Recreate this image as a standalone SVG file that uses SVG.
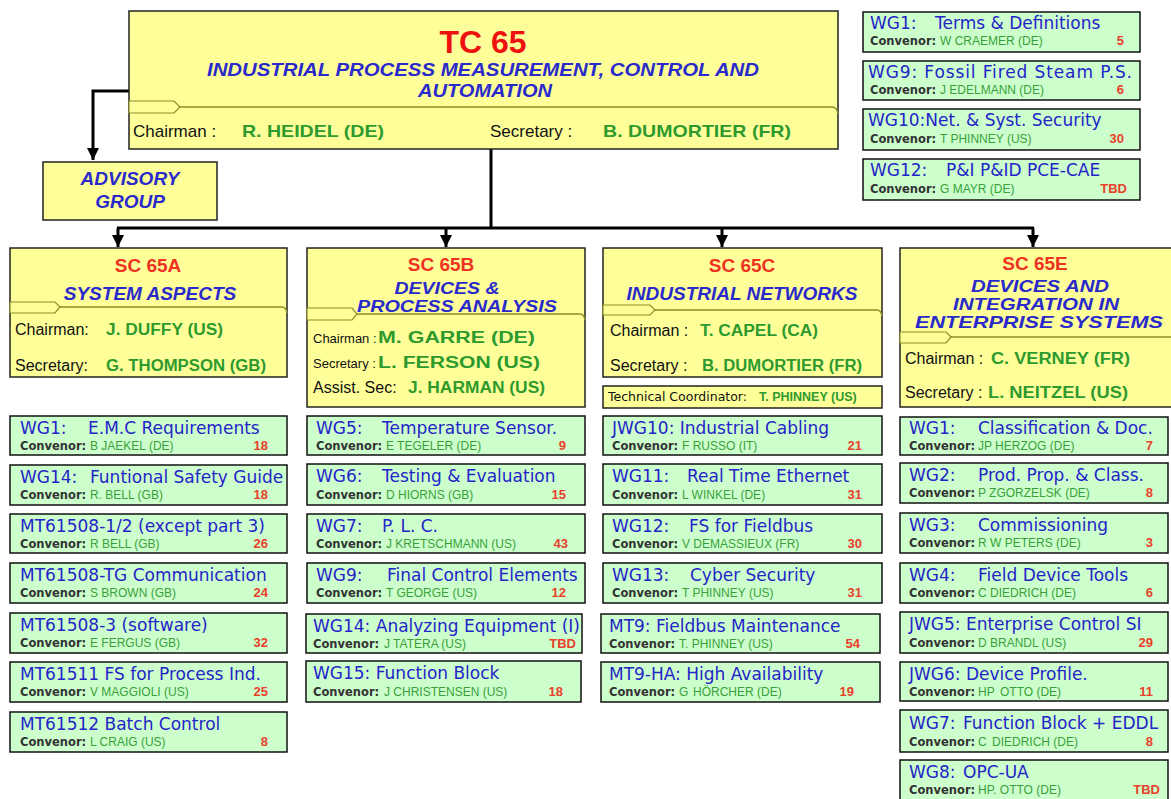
<svg xmlns="http://www.w3.org/2000/svg" width="1171" height="799" viewBox="0 0 1171 799">
<defs>
<style>
.yb{fill:#ffff99;stroke:#222;stroke-width:1.5}
.gb{fill:#ccffcc;stroke:#111;stroke-width:1.5}
.tab{fill:#ffff99;stroke:#8c8c2a;stroke-width:1.2}
.sep{fill:none;stroke:#8c8c2a;stroke-width:1.5}
.conn{fill:none;stroke:#000;stroke-width:3}
.wt{font-family:"DejaVu Sans",sans-serif;font-size:17px;fill:#2424c8}
.cv{font-family:"DejaVu Sans",sans-serif;font-size:11.5px;font-weight:bold;fill:#333}
.nm{font-family:"Liberation Sans",Arial,sans-serif;font-size:12px;fill:#3a9f3a}
.no{font-family:"Liberation Sans",Arial,sans-serif;font-size:13px;font-weight:bold;fill:#e8402a;text-anchor:end}
.sct{font-family:"Liberation Sans",Arial,sans-serif;font-weight:bold;font-size:19px;fill:#ee3322;text-anchor:middle}
.scs{font-family:"Liberation Sans",Arial,sans-serif;font-weight:bold;font-style:italic;font-size:19px;fill:#2a2acc;text-anchor:middle}
.lb{font-family:"Liberation Sans",Arial,sans-serif;font-size:16px;fill:#111}
.pn{font-family:"Liberation Sans",Arial,sans-serif;font-weight:bold;font-size:16px;fill:#2e9a2e}
.tc{font-family:"DejaVu Sans",sans-serif;font-size:12.5px;fill:#111}
</style>
<marker id="ah" markerUnits="userSpaceOnUse" markerWidth="12" markerHeight="12" viewBox="0 0 12 12" refX="12" refY="6" orient="auto">
<path d="M0 0 L12 6 L0 12 Z" fill="#000"/>
</marker>
</defs>
<rect width="1171" height="799" fill="#fff"/>

<g id="connectors">
<path class="conn" d="M129 91 H93 V160" marker-end="url(#ah)"/>
<path class="conn" d="M491 149 V228"/>
<path class="conn" d="M117 228 H1034"/>
<path class="conn" d="M118 228 V247" marker-end="url(#ah)"/>
<path class="conn" d="M446 228 V247" marker-end="url(#ah)"/>
<path class="conn" d="M722 228 V247" marker-end="url(#ah)"/>
<path class="conn" d="M1033 228 V247" marker-end="url(#ah)"/>
</g>

<g id="tc65">
<rect class="yb" x="129" y="11" width="709" height="138"/>
<path class="sep" d="M180 107 H832 Q837 107 838 114"/>
<path class="tab" d="M129 101 H174 L180 107 L174 113 H129 Z"/>
<text x="483" y="53" font-family="Liberation Sans, Arial, sans-serif" font-weight="bold" font-size="32" fill="#ee1111" text-anchor="middle">TC 65</text>
<text class="scs" x="483" y="76" style="font-size:18px" textLength="552" lengthAdjust="spacingAndGlyphs">INDUSTRIAL PROCESS MEASUREMENT, CONTROL AND</text>
<text class="scs" x="485" y="97" style="font-size:18px" textLength="134" lengthAdjust="spacingAndGlyphs">AUTOMATION</text>
<text class="lb" x="133" y="137" style="font-size:17px">Chairman :</text>
<text class="pn" x="242" y="137" style="font-size:17px" textLength="142" lengthAdjust="spacingAndGlyphs">R. HEIDEL (DE)</text>
<text class="lb" x="490" y="137" style="font-size:17px">Secretary :</text>
<text class="pn" x="603" y="137" style="font-size:17px" textLength="188" lengthAdjust="spacingAndGlyphs">B. DUMORTIER (FR)</text>
</g>

<g id="advisory">
<rect class="yb" x="43" y="162" width="174" height="58"/>
<text class="scs" x="130" y="185">ADVISORY</text>
<text class="scs" x="130" y="208">GROUP</text>
</g>

<g id="sc65a">
<rect class="yb" x="10" y="248" width="277" height="129"/>
<path class="sep" d="M60 307 H282 Q286 307 287 313"/>
<path class="tab" d="M10 302 H55 L60 307 L55 313 H10 Z"/>
<text class="sct" x="148" y="272">SC 65A</text>
<text class="scs" x="150" y="300">SYSTEM ASPECTS</text>
<text class="lb" x="15" y="335">Chairman:</text>
<text class="pn" x="106" y="335" textLength="117" lengthAdjust="spacingAndGlyphs">J. DUFFY (US)</text>
<text class="lb" x="15" y="371">Secretary:</text>
<text class="pn" x="106" y="371" textLength="160" lengthAdjust="spacingAndGlyphs">G. THOMPSON (GB)</text>
</g>

<g id="sc65b">
<rect class="yb" x="307" y="248" width="278" height="159"/>
<path class="sep" d="M357 314 H580 Q584 314 585 320"/>
<path class="tab" d="M307 308 H352 L357 314 L352 320 H307 Z"/>
<text class="sct" x="441" y="271">SC 65B</text>
<text class="scs" x="447" y="294" style="font-size:16px" textLength="105" lengthAdjust="spacingAndGlyphs">DEVICES &amp;</text>
<text class="scs" x="457" y="312" style="font-size:16px" textLength="200" lengthAdjust="spacingAndGlyphs">PROCESS ANALYSIS</text>
<text class="lb" x="313" y="343" style="font-size:13px">Chairman :</text>
<text class="pn" x="378" y="343" textLength="157" lengthAdjust="spacingAndGlyphs">M. GARRE (DE)</text>
<text class="lb" x="313" y="368" style="font-size:13px">Secretary :</text>
<text class="pn" x="378" y="368" textLength="162" lengthAdjust="spacingAndGlyphs">L. FERSON (US)</text>
<text class="lb" x="313" y="393">Assist. Sec:</text>
<text class="pn" x="408" y="393" textLength="137" lengthAdjust="spacingAndGlyphs">J. HARMAN (US)</text>
</g>

<g id="sc65c">
<rect class="yb" x="603" y="248" width="279" height="129"/>
<path class="sep" d="M655 310 H877 Q881 310 882 316"/>
<path class="tab" d="M603 305 H650 L655 310 L650 315 H603 Z"/>
<text class="sct" x="742" y="272">SC 65C</text>
<text class="scs" x="742" y="300">INDUSTRIAL NETWORKS</text>
<text class="lb" x="610" y="336">Chairman :</text>
<text class="pn" x="700" y="336" textLength="118" lengthAdjust="spacingAndGlyphs">T. CAPEL (CA)</text>
<text class="lb" x="610" y="371">Secretary :</text>
<text class="pn" x="702" y="371" textLength="160" lengthAdjust="spacingAndGlyphs">B. DUMORTIER (FR)</text>
</g>

<g id="techcoord">
<rect class="yb" x="603" y="386" width="279" height="22"/>
<text class="tc" x="608" y="401">Technical Coordinator:</text>
<text class="pn" x="759" y="401" style="font-size:12.5px">T. PHINNEY (US)</text>
</g>

<g id="sc65e">
<rect class="yb" x="900" y="248" width="280" height="159"/>
<path class="sep" d="M951 337 H1175"/>
<path class="tab" d="M900 332 H946 L951 337 L946 343 H900 Z"/>
<text class="sct" x="1035" y="270">SC 65E</text>
<text class="scs" x="1040" y="292" style="font-size:17px" textLength="138" lengthAdjust="spacingAndGlyphs">DEVICES AND</text>
<text class="scs" x="1036" y="310" style="font-size:17px" textLength="166" lengthAdjust="spacingAndGlyphs">INTEGRATION IN</text>
<text class="scs" x="1039" y="328" style="font-size:17px" textLength="248" lengthAdjust="spacingAndGlyphs">ENTERPRISE SYSTEMS</text>
<text class="lb" x="905" y="364">Chairman :</text>
<text class="pn" x="991" y="364" textLength="139" lengthAdjust="spacingAndGlyphs">C. VERNEY (FR)</text>
<text class="lb" x="905" y="398">Secretary :</text>
<text class="pn" x="988" y="398" textLength="140" lengthAdjust="spacingAndGlyphs">L. NEITZEL (US)</text>
</g>

<!-- TC65 top-right WGs -->
<g id="tc-wg1">
<rect class="gb" x="863" y="12" width="277" height="40"/>
<text class="wt" x="870" y="29">WG1:<tspan x="935">Terms &amp; Definitions</tspan></text>
<text class="cv" x="870" y="45">Convenor:</text><text class="nm" x="940" y="45">W CRAEMER (DE)</text><text class="no" x="1124" y="45">5</text>
</g>
<g id="tc-wg9">
<rect class="gb" x="863" y="61" width="277" height="39"/>
<text class="wt" x="868" y="78" textLength="264" lengthAdjust="spacing">WG9: Fossil Fired Steam P.S.</text>
<text class="cv" x="870" y="94">Convenor:</text><text class="nm" x="940" y="94">J EDELMANN (DE)</text><text class="no" x="1124" y="94">6</text>
</g>
<g id="tc-wg10">
<rect class="gb" x="863" y="109" width="277" height="41"/>
<text class="wt" x="868" y="126">WG10:Net. &amp; Syst. Security</text>
<text class="cv" x="870" y="143">Convenor:</text><text class="nm" x="940" y="143">T PHINNEY (US)</text><text class="no" x="1124" y="143">30</text>
</g>
<g id="tc-wg12">
<rect class="gb" x="863" y="159" width="277" height="41"/>
<text class="wt" x="870" y="176">WG12:<tspan x="946">P&amp;I P&amp;ID PCE-CAE</tspan></text>
<text class="cv" x="870" y="193">Convenor:</text><text class="nm" x="940" y="193">G MAYR (DE)</text><text class="no" x="1127" y="193">TBD</text>
</g>

<!-- SC65A column -->
<g id="a-wg1">
<rect class="gb" x="10" y="416" width="277" height="39"/>
<text class="wt" x="20" y="434">WG1:<tspan x="88">E.M.C Requirements</tspan></text>
<text class="cv" x="20" y="450">Convenor:</text><text class="nm" x="90" y="450">B JAEKEL (DE)</text><text class="no" x="268" y="450">18</text>
</g>
<g id="a-wg14">
<rect class="gb" x="10" y="465" width="277" height="40"/>
<text class="wt" x="20" y="483">WG14:<tspan x="90">Funtional Safety Guide</tspan></text>
<text class="cv" x="20" y="499">Convenor:</text><text class="nm" x="90" y="499">R. BELL (GB)</text><text class="no" x="268" y="499">18</text>
</g>
<g id="a-mt1">
<rect class="gb" x="10" y="514" width="277" height="39"/>
<text class="wt" x="20" y="532">MT61508-1/2 (except part 3)</text>
<text class="cv" x="20" y="548">Convenor:</text><text class="nm" x="90" y="548">R BELL (GB)</text><text class="no" x="268" y="548">26</text>
</g>
<g id="a-mt2">
<rect class="gb" x="10" y="563" width="277" height="40"/>
<text class="wt" x="20" y="581">MT61508-TG Communication</text>
<text class="cv" x="20" y="597">Convenor:</text><text class="nm" x="90" y="597">S BROWN (GB)</text><text class="no" x="268" y="597">24</text>
</g>
<g id="a-mt3">
<rect class="gb" x="10" y="613" width="277" height="40"/>
<text class="wt" x="20" y="631">MT61508-3 (software)</text>
<text class="cv" x="20" y="647">Convenor:</text><text class="nm" x="90" y="647">E FERGUS (GB)</text><text class="no" x="268" y="647">32</text>
</g>
<g id="a-mt4">
<rect class="gb" x="10" y="662" width="277" height="40"/>
<text class="wt" x="20" y="680">MT61511 FS for Process Ind.</text>
<text class="cv" x="20" y="696">Convenor:</text><text class="nm" x="90" y="696">V MAGGIOLI (US)</text><text class="no" x="268" y="696">25</text>
</g>
<g id="a-mt5">
<rect class="gb" x="10" y="712" width="277" height="40"/>
<text class="wt" x="20" y="730">MT61512 Batch Control</text>
<text class="cv" x="20" y="746">Convenor:</text><text class="nm" x="90" y="746">L CRAIG (US)</text><text class="no" x="268" y="746">8</text>
</g>

<!-- SC65B column -->
<g id="b-wg5">
<rect class="gb" x="307" y="416" width="278" height="39"/>
<text class="wt" x="316" y="434">WG5:<tspan x="382">Temperature Sensor.</tspan></text>
<text class="cv" x="316" y="450">Convenor:</text><text class="nm" x="386" y="450">E TEGELER (DE)</text><text class="no" x="566" y="450">9</text>
</g>
<g id="b-wg6">
<rect class="gb" x="307" y="464" width="278" height="41"/>
<text class="wt" x="316" y="482">WG6:<tspan x="382">Testing &amp; Evaluation</tspan></text>
<text class="cv" x="316" y="499">Convenor:</text><text class="nm" x="386" y="499">D HIORNS (GB)</text><text class="no" x="566" y="499">15</text>
</g>
<g id="b-wg7">
<rect class="gb" x="307" y="514" width="278" height="39"/>
<text class="wt" x="316" y="532">WG7:<tspan x="382">P. L. C.</tspan></text>
<text class="cv" x="316" y="548">Convenor:</text><text class="nm" x="386" y="548">J KRETSCHMANN (US)</text><text class="no" x="568" y="548">43</text>
</g>
<g id="b-wg9">
<rect class="gb" x="307" y="563" width="278" height="40"/>
<text class="wt" x="316" y="581">WG9:<tspan x="387">Final Control Elements</tspan></text>
<text class="cv" x="316" y="597">Convenor:</text><text class="nm" x="386" y="597">T GEORGE (US)</text><text class="no" x="566" y="597">12</text>
</g>
<g id="b-wg14">
<rect class="gb" x="306" y="614" width="276" height="39"/>
<text class="wt" x="313" y="632">WG14: Analyzing Equipment (I)</text>
<text class="cv" x="313" y="648">Convenor:</text><text class="nm" x="384" y="648">J TATERA (US)</text><text class="no" x="576" y="648">TBD</text>
</g>
<g id="b-wg15">
<rect class="gb" x="306" y="661" width="275" height="41"/>
<text class="wt" x="313" y="679">WG15: Function Block</text>
<text class="cv" x="313" y="696">Convenor:</text><text class="nm" x="384" y="696">J CHRISTENSEN (US)</text><text class="no" x="563" y="696">18</text>
</g>

<!-- SC65C column -->
<g id="c-jwg10">
<rect class="gb" x="603" y="416" width="279" height="39"/>
<text class="wt" x="612" y="434">JWG10: Industrial Cabling</text>
<text class="cv" x="612" y="450">Convenor:</text><text class="nm" x="682" y="450">F RUSSO (IT)</text><text class="no" x="862" y="450">21</text>
</g>
<g id="c-wg11">
<rect class="gb" x="603" y="464" width="279" height="41"/>
<text class="wt" x="612" y="482">WG11:<tspan x="687">Real Time Ethernet</tspan></text>
<text class="cv" x="612" y="499">Convenor:</text><text class="nm" x="682" y="499">L WINKEL (DE)</text><text class="no" x="862" y="499">31</text>
</g>
<g id="c-wg12">
<rect class="gb" x="603" y="514" width="279" height="39"/>
<text class="wt" x="612" y="532">WG12:<tspan x="689">FS for Fieldbus</tspan></text>
<text class="cv" x="612" y="548">Convenor:</text><text class="nm" x="682" y="548">V DEMASSIEUX (FR)</text><text class="no" x="862" y="548">30</text>
</g>
<g id="c-wg13">
<rect class="gb" x="603" y="563" width="279" height="40"/>
<text class="wt" x="612" y="581">WG13:<tspan x="690">Cyber Security</tspan></text>
<text class="cv" x="612" y="597">Convenor:</text><text class="nm" x="682" y="597">T PHINNEY (US)</text><text class="no" x="862" y="597">31</text>
</g>
<g id="c-mt9">
<rect class="gb" x="601" y="614" width="279" height="39"/>
<text class="wt" x="609" y="632">MT9: Fieldbus Maintenance</text>
<text class="cv" x="609" y="648">Convenor:</text><text class="nm" x="679" y="648">T. PHINNEY (US)</text><text class="no" x="860" y="648">54</text>
</g>
<g id="c-mt9ha">
<rect class="gb" x="601" y="662" width="279" height="40"/>
<text class="wt" x="609" y="680">MT9-HA: High Availability</text>
<text class="cv" x="609" y="696">Convenor:</text><text class="nm" x="679" y="696">G<tspan x="693">HÖRCHER (DE)</tspan></text><text class="no" x="854" y="696">19</text>
</g>

<!-- SC65E column -->
<g id="e-wg1">
<rect class="gb" x="900" y="417" width="268" height="38"/>
<text class="wt" x="909" y="434">WG1:<tspan x="978">Classification &amp; Doc.</tspan></text>
<text class="cv" x="909" y="450">Convenor:</text><text class="nm" x="978" y="450">JP HERZOG (DE)</text><text class="no" x="1153" y="450">7</text>
</g>
<g id="e-wg2">
<rect class="gb" x="900" y="463" width="268" height="40"/>
<text class="wt" x="909" y="481">WG2:<tspan x="978">Prod. Prop. &amp; Class.</tspan></text>
<text class="cv" x="909" y="497">Convenor:</text><text class="nm" x="978" y="497">P ZGORZELSK (DE)</text><text class="no" x="1153" y="497">8</text>
</g>
<g id="e-wg3">
<rect class="gb" x="900" y="513" width="268" height="40"/>
<text class="wt" x="909" y="531">WG3:<tspan x="978">Commissioning</tspan></text>
<text class="cv" x="909" y="547">Convenor:</text><text class="nm" x="978" y="547">R W PETERS (DE)</text><text class="no" x="1153" y="547">3</text>
</g>
<g id="e-wg4">
<rect class="gb" x="900" y="563" width="268" height="40"/>
<text class="wt" x="909" y="581">WG4:<tspan x="978">Field Device Tools</tspan></text>
<text class="cv" x="909" y="597">Convenor:</text><text class="nm" x="978" y="597">C DIEDRICH (DE)</text><text class="no" x="1153" y="597">6</text>
</g>
<g id="e-jwg5">
<rect class="gb" x="900" y="612" width="268" height="41"/>
<text class="wt" x="909" y="630">JWG5: Enterprise Control SI</text>
<text class="cv" x="909" y="647">Convenor:</text><text class="nm" x="978" y="647">D BRANDL (US)</text><text class="no" x="1153" y="647">29</text>
</g>
<g id="e-jwg6">
<rect class="gb" x="900" y="662" width="268" height="39"/>
<text class="wt" x="909" y="680">JWG6: Device Profile.</text>
<text class="cv" x="909" y="696">Convenor:</text><text class="nm" x="978" y="696">HP<tspan x="1000">OTTO (DE)</tspan></text><text class="no" x="1153" y="696">11</text>
</g>
<g id="e-wg7">
<rect class="gb" x="900" y="710" width="268" height="42"/>
<text class="wt" x="909" y="729">WG7:<tspan x="963">Function Block + EDDL</tspan></text>
<text class="cv" x="909" y="746">Convenor:</text><text class="nm" x="978" y="746">C<tspan x="992">DIEDRICH (DE)</tspan></text><text class="no" x="1153" y="746">8</text>
</g>
<g id="e-wg8">
<rect class="gb" x="900" y="760" width="268" height="45"/>
<text class="wt" x="909" y="778">WG8:<tspan x="963">OPC-UA</tspan></text>
<text class="cv" x="909" y="794">Convenor:</text><text class="nm" x="978" y="794">HP. OTTO (DE)</text><text class="no" x="1160" y="794">TBD</text>
</g>
</svg>
